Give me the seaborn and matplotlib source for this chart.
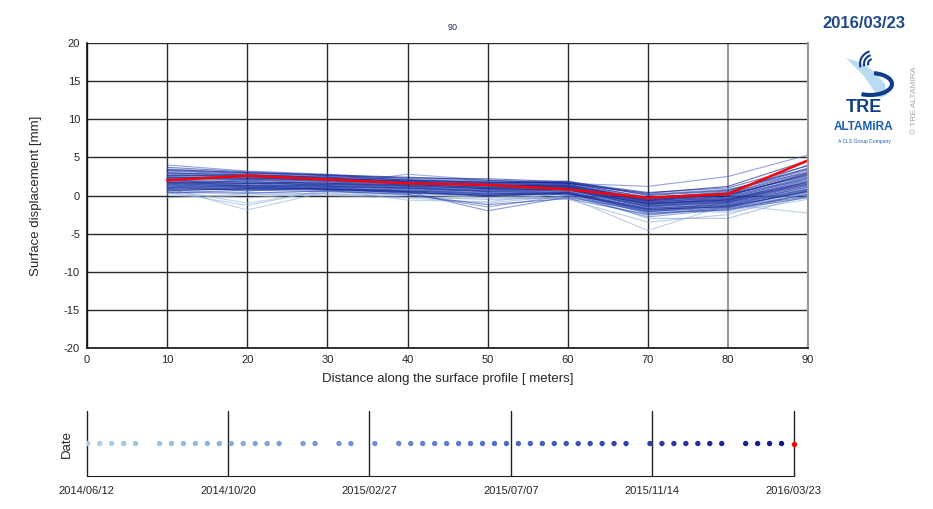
import numpy as np
import pandas as pd
import matplotlib
matplotlib.use('Agg')
import matplotlib.pyplot as plt
import matplotlib.dates as mdates
from matplotlib.colors import LinearSegmentedColormap
from matplotlib.patches import Arc, Polygon
import seaborn as sns

# DANE
distances = [10, 20, 30, 40, 50, 60, 70, 80, 90]

acq_dates = [
    '2014-06-13', '2014-06-24', '2014-07-05', '2014-07-16', '2014-07-27',
    '2014-08-18', '2014-08-29', '2014-09-09', '2014-09-20', '2014-10-01',
    '2014-10-12', '2014-10-23', '2014-11-03', '2014-11-14', '2014-11-25',
    '2014-12-06', '2014-12-28', '2015-01-08', '2015-01-30', '2015-02-10',
    '2015-03-04', '2015-03-26', '2015-04-06', '2015-04-17', '2015-04-28',
    '2015-05-09', '2015-05-20', '2015-05-31', '2015-06-11', '2015-06-22',
    '2015-07-03', '2015-07-14', '2015-07-25', '2015-08-05', '2015-08-16',
    '2015-08-27', '2015-09-07', '2015-09-18', '2015-09-29', '2015-10-10',
    '2015-10-21', '2015-11-12', '2015-11-23', '2015-12-04', '2015-12-15',
    '2015-12-26', '2016-01-06', '2016-01-17', '2016-02-08', '2016-02-19',
    '2016-03-01', '2016-03-12', '2016-03-23',
]

# profil przemieszczen [mm] dla kazdej daty (kolejnosc jak acq_dates)
profiles = [
    [0.2, -0.3, 0.3, 0.0, -0.2, 0.1, -0.5, -0.4, 0.0],
    [0.8, -1.0, 0.6, 0.4, 0.2, 0.5, -1.0, -0.8, 0.3],
    [1.0, -1.9, 0.5, 0.3, -0.3, -0.2, -4.6, -1.2, -2.3],
    [0.5, -1.3, 0.8, -0.6, -0.8, 0.3, -2.0, -2.2, -0.5],
    [1.5, 0.6, 1.2, 0.8, 0.3, -0.5, -3.5, -2.5, 0.5],
    [-0.3, 0.2, 0.0, -0.3, -1.0, 0.0, -2.6, -1.5, 0.2],
    [2.0, 1.5, 1.8, 1.0, 0.5, 0.8, -1.5, -0.8, 1.0],
    [1.2, 0.8, 1.0, 0.6, 0.0, 0.4, -3.0, -3.0, 0.0],
    [3.0, 2.5, 2.2, 1.8, 1.2, 1.5, -0.5, 0.2, 2.0],
    [1.8, 1.2, 1.5, 0.5, 0.8, 0.2, -2.2, -1.0, 0.8],
    [0.6, 0.4, 0.2, -0.2, -0.5, -0.3, -1.8, -2.0, -0.2],
    [2.5, 2.0, 1.9, 1.5, 1.0, 1.0, -1.2, -0.5, 1.5],
    [1.4, 1.0, 1.3, 0.9, 0.6, 0.6, -2.4, -1.6, 0.6],
    [3.5, 3.0, 2.6, 2.0, 1.8, 1.2, -0.8, -0.2, 2.5],
    [0.9, 1.6, 0.9, 0.4, 0.0, 0.9, -1.6, -1.3, 1.2],
    [2.2, 1.0, 1.5, 1.2, 0.5, 0.3, -2.0, -0.9, 1.8],
    [1.0, 2.2, 1.4, 2.8, 2.0, 1.8, 0.2, 0.8, 3.0],
    [1.6, 1.4, 0.7, 0.8, 0.2, 0.5, -1.9, -1.4, 0.4],
    [2.8, 2.6, 2.4, 1.6, 1.4, 1.2, -0.9, -0.3, 2.2],
    [0.3, 0.7, 0.5, 0.2, -1.5, 0.0, -2.8, -1.8, -0.3],
    [1.9, 1.7, 1.6, 1.3, 0.9, 0.7, -1.4, -0.7, 1.6],
    [4.0, 3.2, 2.8, 2.2, 1.9, 1.6, 1.2, 2.5, 5.3],
    [1.3, 1.1, 0.8, 0.6, 0.3, 0.4, -1.7, -1.1, 0.9],
    [2.4, 2.3, 2.0, 1.7, 1.5, 1.3, -0.6, 0.0, 2.8],
    [0.7, 0.9, 1.1, 0.5, -2.0, -0.2, -2.1, -1.6, 0.1],
    [1.7, 1.9, 1.2, 1.0, 0.7, 0.9, -1.1, -0.4, 1.9],
    [3.2, 2.8, 2.3, 1.9, 1.6, 1.7, -0.3, 0.5, 3.4],
    [1.1, 0.6, 1.0, 0.7, 0.4, 0.1, -2.3, -1.9, 0.2],
    [2.1, 2.0, 1.7, 1.4, 1.1, 1.0, -1.0, -0.6, 2.1],
    [0.4, 0.3, 0.6, 0.1, -1.2, -0.4, -2.5, -1.7, -0.1],
    [2.6, 2.4, 2.1, 1.8, 1.3, 1.4, -0.7, 0.1, 2.6],
    [1.5, 1.3, 1.3, 1.1, 0.8, 0.8, -1.3, -0.8, 1.4],
    [2.9, 2.7, 2.5, 2.1, 1.7, 1.9, 0.0, 0.6, 3.6],
    [0.8, 1.0, 0.9, 0.3, 0.1, 0.2, -1.9, -1.3, 0.7],
    [1.8, 1.6, 1.8, 1.5, 1.0, 1.1, -0.8, -0.4, 2.3],
    [3.7, 3.1, 2.7, 2.0, 1.8, 1.5, -0.4, 0.4, 4.0],
    [1.2, 1.2, 1.1, 0.9, 0.5, 0.5, -1.5, -1.0, 1.1],
    [2.3, 2.1, 1.9, 1.6, 1.2, 1.2, -0.9, -0.2, 2.4],
    [0.9, 0.8, 0.7, 0.4, -0.1, 0.3, -2.1, -1.4, 0.5],
    [2.7, 2.5, 2.2, 1.9, 1.6, 1.6, -0.2, 0.3, 3.2],
    [1.6, 1.5, 1.4, 1.2, 0.9, 0.9, -1.2, -0.7, 1.5],
    [3.3, 2.9, 2.6, 2.3, 2.2, 1.8, 0.4, 1.0, 3.9],
    [1.0, 1.1, 0.9, 0.6, 0.2, 0.4, -1.7, -1.2, 0.8],
    [2.0, 1.8, 1.6, 1.4, 1.1, 1.0, -1.0, -0.5, 1.8],
    [2.6, 2.6, 2.3, 1.8, 1.5, 1.4, -0.6, 0.2, 3.0],
    [1.4, 1.3, 1.2, 1.0, 0.6, 0.7, -1.4, -0.9, 1.3],
    [3.0, 2.7, 2.4, 2.0, 1.7, 1.7, 0.1, 0.7, 3.5],
    [1.7, 1.6, 1.5, 1.3, 0.9, 0.8, -1.1, -0.6, 1.7],
    [2.2, 2.2, 2.0, 1.7, 1.3, 1.3, -0.5, 0.1, 2.7],
    [0.6, 0.9, 0.8, 0.5, 0.0, 0.3, -1.8, -1.5, 0.6],
    [2.4, 2.3, 2.1, 1.6, 1.4, 1.1, -0.7, -0.1, 2.9],
    [3.4, 3.0, 2.7, 2.4, 2.0, 1.6, 0.3, 1.2, 4.6],
    [2.0, 2.6, 2.1, 1.6, 1.4, 0.8, -0.3, 0.2, 4.6],
]

date_ticks = ['2014-06-12', '2014-10-20', '2015-02-27', '2015-07-07', '2015-11-14', '2016-03-23']
y_ticks = [-20, -15, -10, -5, 0, 5, 10, 15, 20]
x_ticks = [0, 10, 20, 30, 40, 50, 60, 70, 80, 90]

# USTAWIENIA
sns.set_style('white')
plt.rcParams['font.family'] = ['Liberation Sans', 'DejaVu Sans']
plt.rcParams['axes.unicode_minus'] = False

date_cmap = LinearSegmentedColormap.from_list('dates', ['#acd3e4', '#5b7ac6', '#0a1488'])
line_cmap = LinearSegmentedColormap.from_list('lines', ['#9cbce0', '#3550b8', '#0a1488'])

rows = []
for i, prof in enumerate(profiles):
    for d, v in zip(distances, prof):
        rows.append({'order': i, 'distance': d, 'disp': v})
df = pd.DataFrame(rows)
n_dates = len(acq_dates)

fig = plt.figure(figsize=(9.33, 5.09), dpi=100)

# WYKRES PROFILU
ax = fig.add_axes([0.0933, 0.3163, 0.7728, 0.5992])
ax.set_axisbelow(True)
ax.grid(True, color='#2a2a2a', linewidth=1.0)

sns.lineplot(
    data=df[df['order'] < n_dates - 1],
    x='distance', y='disp',
    hue='order', units='order', estimator=None,
    palette=line_cmap, hue_norm=(0, n_dates - 1),
    linewidth=0.8, alpha=0.6, legend=False, ax=ax
)
last = df[df['order'] == n_dates - 1]
sns.lineplot(data=last, x='distance', y='disp', color='#ff0000',
             linewidth=1.8, estimator=None, legend=False, ax=ax)

ax.set_xlim(0, 90)
ax.set_ylim(-20, 20)
ax.set_xticks(x_ticks)
ax.set_yticks(y_ticks)
ax.tick_params(axis='both', labelsize=8, length=3, width=0.8, color='#222222', pad=2)
ax.set_xlabel('Distance along the surface profile [ meters]', fontsize=9.5, labelpad=6)
ax.set_ylabel('Surface displacement [mm]', fontsize=9.5, labelpad=16)
for side in ['left', 'bottom']:
    ax.spines[side].set_color('#111111')
    ax.spines[side].set_linewidth(1.2)
ax.spines['top'].set_visible(False)
ax.spines['right'].set_color('#999999')
ax.spines['right'].set_linewidth(1.5)
for gl, val in zip(ax.get_xgridlines(), x_ticks):
    if val >= 80:
        gl.set_color('#999999')
        gl.set_linewidth(1.5)

# OS CZASU
tax = fig.add_axes([0.0929, 0.0648, 0.7576, 0.1277])
dates = pd.to_datetime(acq_dates)
tl = pd.DataFrame({'date': dates, 'y': 0.0, 'order': range(n_dates)})
tick_dates = pd.to_datetime(date_ticks)
for td in tick_dates:
    tax.axvline(td, color='#222222', linewidth=1.0, clip_on=False, zorder=1)

sns.scatterplot(data=tl.iloc[:-1], x='date', y='y', hue='order', palette=date_cmap,
                hue_norm=(0, n_dates - 1), s=15, linewidth=0, legend=False, ax=tax, zorder=3)
sns.scatterplot(data=tl.iloc[-1:], x='date', y='y', color='#ff0000', s=15,
                linewidth=0, legend=False, ax=tax, zorder=5, clip_on=False)

tax.set_xlim(tick_dates[0], tick_dates[-1])
tax.set_ylim(-1, 1)
tax.set_xticks(tick_dates)
tax.xaxis.set_major_formatter(mdates.DateFormatter('%Y/%m/%d'))
tax.set_yticks([])
tax.tick_params(axis='x', labelsize=8, length=4, width=0.8, color='#222222', pad=3)
tax.set_xlabel('')
tax.set_ylabel('Date', fontsize=9.5, labelpad=10)
for side in ['top', 'right', 'left']:
    tax.spines[side].set_visible(False)
tax.spines['bottom'].set_color('#222222')

# NAPISY
fig.text(453 / 933, 1 - 27 / 509, '90', fontsize=6.5, color='#1a2a5a', ha='center', va='center')
fig.text(864 / 933, 1 - 24 / 509, '2016/03/23', fontsize=12, weight='bold',
         color='#1f4a86', ha='center', va='center')

# LOGO
lax = fig.add_axes([840 / 933, 1 - 102 / 509, 65 / 933, 54 / 509])
lax.set_xlim(0, 65)
lax.set_ylim(54, 0)
lax.axis('off')
lax.add_patch(Polygon([[6, 10], [22, 15], [36, 25], [45, 36], [47, 47], [40, 50],
                       [32, 40], [23, 27], [13, 17]], closed=True, color='#b9dcf3', lw=0))
lax.add_patch(Arc((30, 36), 44, 22, theta1=-70, theta2=130, color='#103d8a', lw=3.0))
for r in [10, 18, 26]:
    lax.add_patch(Arc((33, 16), r, r, theta1=165, theta2=255, color='#103d8a', lw=1.5))

fig.text(864 / 933, 1 - 108 / 509, 'TRE', fontsize=13, weight='bold', color='#0e3f86',
         ha='center', va='center')
fig.text(864 / 933, 1 - 127 / 509, 'ALTAMiRA', fontsize=8.5, weight='bold', color='#1b5fae',
         ha='center', va='center')
fig.text(864 / 933, 1 - 142 / 509, 'A CLS Group Company', fontsize=3.6, color='#1b5fae',
         ha='center', va='center')
fig.text(915 / 933, 1 - 100 / 509, '\u00a9 TRE ALTAMIRA', fontsize=6, color='#a8a8a8',
         rotation=90, ha='center', va='center')

plt.savefig('out.png', dpi=100)
plt.close()
